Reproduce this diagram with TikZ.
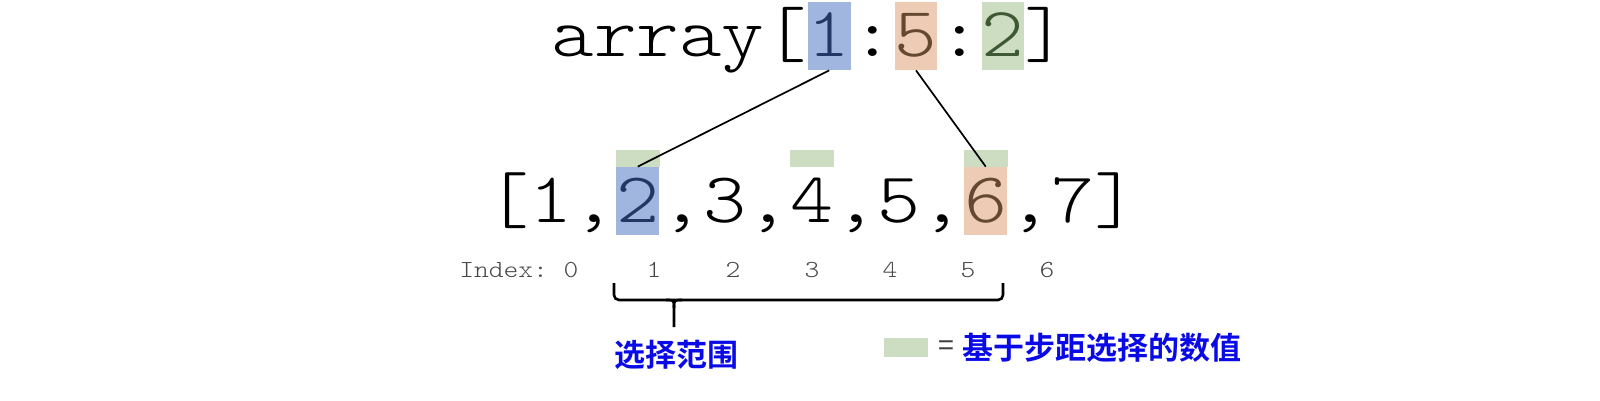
\documentclass[tikz,border=0pt]{standalone}
\usepackage{fontspec}
\setmainfont{Liberation Sans}
\newfontfamily\cour{Latin Modern Mono Light}[FakeStretch=1.15]
\newfontfamily\cjk{Noto Sans CJK SC}[BoldFont={Noto Sans CJK SC Bold}]
\usetikzlibrary{positioning}
\definecolor{boxblue}{RGB}{160,182,222}
\definecolor{boxorange}{RGB}{237,203,180}
\definecolor{boxgreen}{RGB}{204,221,194}
\definecolor{digblue}{RGB}{35,55,100}
\definecolor{digorange}{RGB}{100,72,50}
\definecolor{diggreen}{RGB}{62,88,52}
\definecolor{lblblue}{RGB}{10,10,230}
\begin{document}
\begin{tikzpicture}[x=0.5pt,y=-0.5pt,
	toprow/.style={inner sep=0pt,anchor=base west,font=\cour\fontsize{35.28pt}{40pt}\selectfont,text height=27.5pt,text depth=6.5pt},
	botrow/.style={toprow,font=\cour\fontsize{35.69pt}{40pt}\selectfont},
	idx/.style={inner sep=0pt,anchor=base,font=\cour\fontsize{12.25pt}{14pt}\selectfont,text=black!72},
	link/.style={line width=0.85pt},
	brace/.style={line width=1.3pt},
	cjklbl/.style={inner sep=0pt,font=\cjk\bfseries\fontsize{15.5pt}{18pt}\selectfont,text=lblblue}]
		\useasboundingbox (0,0) rectangle (1600,401);
		\node[toprow] (arr) at (551.1,57) {array[};
		\node[toprow,fill=boxblue,text=digblue] (t1) at (arr.base east) {1};
		\node[toprow] (c1) at (t1.base east) {:};
		\node[toprow,fill=boxorange,text=digorange] (t5) at (c1.base east) {5};
		\node[toprow] (c2) at (t5.base east) {:};
		\node[toprow,fill=boxgreen,text=diggreen] (t2) at (c2.base east) {2};
		\node[toprow] (rb) at (t2.base east) {]};
		\node[botrow] (b0) at (485.7,222) {[1,};
		\node[botrow,fill=boxblue,text=digblue] (b2) at (b0.base east) {2};
		\node[botrow] (b3) at (b2.base east) {,3,};
		\node[botrow] (b4) at (b3.base east) {4};
		\node[botrow] (b5) at (b4.base east) {,5,};
		\node[botrow,fill=boxorange,text=digorange] (b6) at (b5.base east) {6};
		\node[botrow] (b7) at (b6.base east) {,7]};
		\foreach \n in {b2,b4,b6}
			\fill[boxgreen] (\n.north west) rectangle ([yshift=8.5pt]\n.north east);
		\draw[link] (t1.south) -- (b2.north);
		\draw[link] (t5.south) -- (b6.north);
		\foreach \i/\x in {0/571,1/654,2/733,3/812,4/890,5/968,6/1047}
			\node[idx] (i\i) at (\x,277) {\i};
		\node[idx,anchor=base east] (idxlbl) at (i0.base west) {Index:\phantom{0}};
		\draw[brace,rounded corners=2.5pt] (614,283) -- (614,300) -- (1003,300) -- (1003,283);
		\draw[brace] (666,300) .. controls (674,300) .. (674,308) -- (674,327);
		\draw[brace] (682,300) .. controls (674,300) .. (674,308);
		\node[cjklbl] (range) at (676,355) {选择范围};
		\node[fill=boxgreen,inner sep=0pt,minimum width=22pt,minimum height=9.5pt] (key) at (906,347.5) {};
		\node[inner sep=0pt,font=\fontsize{14pt}{16pt}\selectfont,text=black!75,right=4.5pt of key] (eq) {=};
		\node[cjklbl,right=4pt of eq] (keytext) {基于步距选择的数值};
	\end{tikzpicture}
\end{document}
